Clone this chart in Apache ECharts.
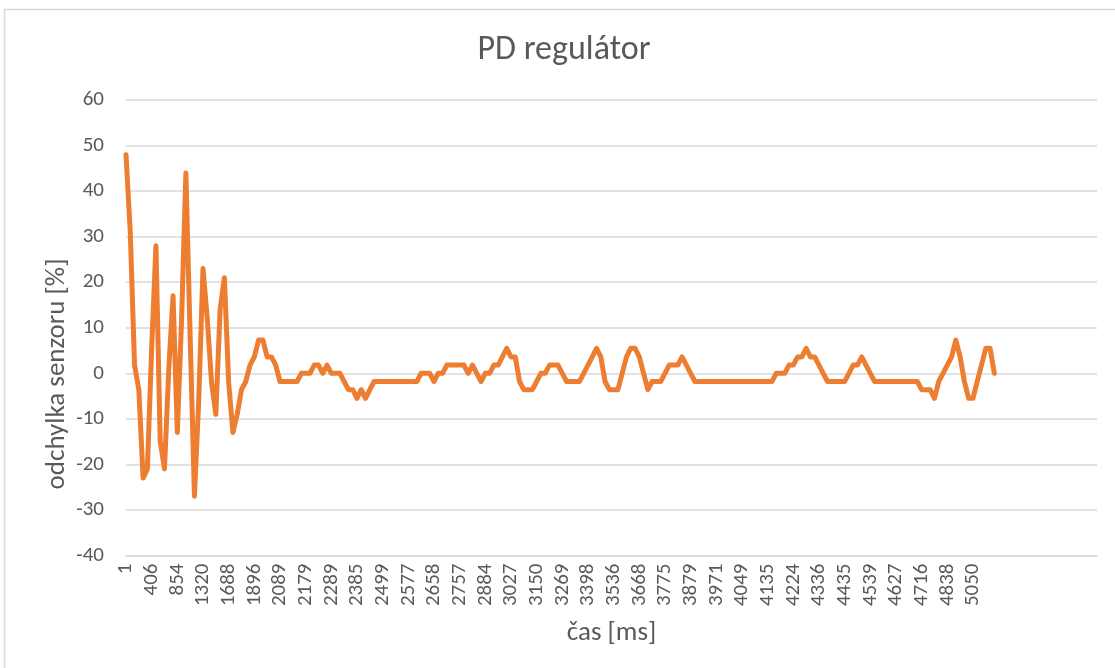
<!DOCTYPE html>
<html>
<head>
<meta charset="utf-8">
<script src="https://cdn.jsdelivr.net/npm/echarts@6/dist/echarts.min.js"></script>
<style>
html,body{margin:0;padding:0;background:#fff;}
#chart{width:1115px;height:668px;}
</style>
</head>
<body>
<div id="chart"></div>
<script>
// Visible tick labels of the category axis (every 6th category is labelled)
const tickLabels = ['1','406','854','1320','1688','1896','2089','2179','2289','2385','2499','2577','2658','2757','2884','3027','3150','3269','3398','3536','3668','3775','3879','3971','4049','4135','4224','4336','4435','4539','4627','4716','4838','5050'];
const labelStep = 6;
const categoryCount = 228;

// odchylka senzoru [%] per sample
const deviation = [
  48, 31, 1.8, -3.6, -23, -21, 5.5, 28, -15, -21,
  1, 17, -13, 12, 44, 8, -27, -6, 23, 12,
  -2, -9, 14, 21, -2, -13, -9, -3.6, -1.8, 1.8,
  3.6, 7.3, 7.3, 3.6, 3.6, 1.8, -1.8, -1.8, -1.8, -1.8,
  -1.8, 0, 0, 0, 1.8, 1.8, 0, 1.8, 0, 0,
  0, -1.8, -3.6, -3.6, -5.5, -3.6, -5.5, -3.6, -1.8, -1.8,
  -1.8, -1.8, -1.8, -1.8, -1.8, -1.8, -1.8, -1.8, -1.8, 0,
  0, 0, -1.8, 0, 0, 1.8, 1.8, 1.8, 1.8, 1.8,
  0, 1.8, 0, -1.8, 0, 0, 1.8, 1.8, 3.6, 5.5,
  3.6, 3.6, -1.8, -3.6, -3.6, -3.6, -1.8, 0, 0, 1.8,
  1.8, 1.8, 0, -1.8, -1.8, -1.8, -1.8, 0, 1.8, 3.6,
  5.5, 3.6, -1.8, -3.6, -3.6, -3.6, 0, 3.6, 5.5, 5.5,
  3.6, 0, -3.6, -1.8, -1.8, -1.8, 0, 1.8, 1.8, 1.8,
  3.6, 1.8, 0, -1.8, -1.8, -1.8, -1.8, -1.8, -1.8, -1.8,
  -1.8, -1.8, -1.8, -1.8, -1.8, -1.8, -1.8, -1.8, -1.8, -1.8,
  -1.8, -1.8, 0, 0, 0, 1.8, 1.8, 3.6, 3.6, 5.5,
  3.6, 3.6, 1.8, 0, -1.8, -1.8, -1.8, -1.8, -1.8, 0,
  1.8, 1.8, 3.6, 1.8, 0, -1.8, -1.8, -1.8, -1.8, -1.8,
  -1.8, -1.8, -1.8, -1.8, -1.8, -1.8, -3.6, -3.6, -3.6, -5.5,
  -1.8, 0, 1.8, 3.6, 7.3, 3.6, -1.8, -5.5, -5.5, -1.8,
  1.8, 5.5, 5.5, 0
];

const categories = [];
for (let i = 0; i < categoryCount; i++) {
  const j = i / labelStep;
  categories.push(i % labelStep === 0 && j < tickLabels.length ? tickLabels[j] : '');
}

const FONT = 'Carlito, Calibri, Lato, sans-serif';
const TXT = '#595959';
const GRID = '#d9d9d9';

const chart = echarts.init(document.getElementById('chart'), null, {renderer: 'canvas'});
chart.setOption({
  animation: false,
  backgroundColor: '#fff',
  textStyle: {fontFamily: FONT},
  grid: {left: 126, right: 18, top: 100, bottom: 112.5, containLabel: false},
  graphic: [
    {type: 'rect', shape: {x: 4.5, y: 9.5, width: 1200, height: 700}, style: {fill: 'none', stroke: GRID, lineWidth: 1.5}, silent: true, z: -10},
    {type: 'text', x: 564, y: 50, style: {text: 'PD regulátor', fontFamily: FONT, fontSize: 34, fill: TXT, textAlign: 'center', textVerticalAlign: 'middle'}},
    {type: 'text', x: 57, y: 374, rotation: Math.PI / 2, style: {text: 'odchylka senzoru [%]', fontFamily: FONT, fontSize: 27, fill: TXT, textAlign: 'center', textVerticalAlign: 'middle'}}
  ],
  xAxis: {
    type: 'category',
    data: categories,
    boundaryGap: false,
    name: 'čas [ms]',
    nameLocation: 'middle',
    nameGap: 64,
    nameTextStyle: {fontFamily: FONT, fontSize: 27, color: TXT},
    axisLine: {show: true, onZero: false, lineStyle: {color: GRID, width: 1.5}},
    axisTick: {show: false},
    axisLabel: {interval: labelStep - 1, rotate: 90, margin: 8, fontFamily: FONT, fontSize: 21, color: TXT},
    splitLine: {show: false}
  },
  yAxis: {
    type: 'value',
    min: -40, max: 60, interval: 10,
    axisLine: {show: false},
    axisTick: {show: false},
    axisLabel: {margin: 22, fontFamily: FONT, fontSize: 21, color: TXT},
    splitLine: {show: true, lineStyle: {color: GRID, width: 1.5}}
  },
  series: [{
    type: 'line',
    data: deviation,
    showSymbol: false,
    symbol: 'none',
    lineStyle: {color: '#ED7D31', width: 5, cap: 'round', join: 'round'},
    itemStyle: {color: '#ED7D31'}
  }]
});
</script>
</body>
</html>
